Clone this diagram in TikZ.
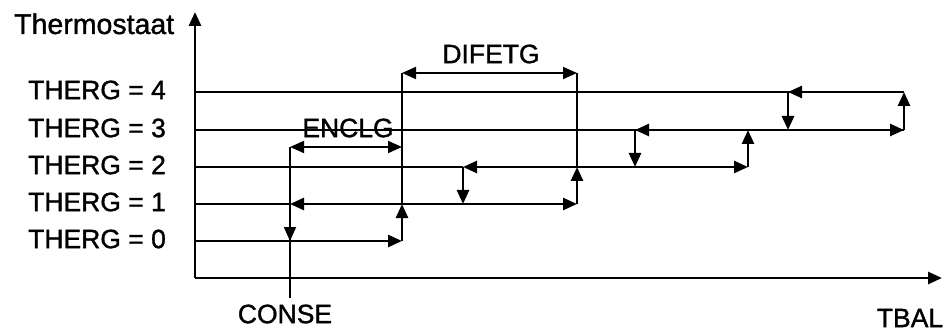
\documentclass[tikz,border=0pt]{standalone}
\usepackage{fontspec}
\setmainfont[FakeBold=1.2]{Liberation Sans}
\usetikzlibrary{arrows.meta,positioning}

\begin{document}
\begin{tikzpicture}[
    x=1pt, y=-1pt,
    lbl/.style={font=\fontsize{26.5}{30}\selectfont, inner sep=0pt},
    axis/.style={line width=2.8pt, -{Triangle[length=14pt, width=12pt]}},
    level/.style={line width=1.1pt},
    guide/.style={line width=1.1pt},
    arrow/.style={line width=2.6pt, -{Triangle[length=14pt, width=12pt]}},
    dimarrow/.style={line width=1.8pt, {Triangle[length=14pt, width=12pt]}-{Triangle[length=14pt, width=12pt]}},
]
    \useasboundingbox (0,0) rectangle (947,331);

    % Axes
    \coordinate (o) at (195,278);
    \coordinate (ytop) at (195,12);
    \coordinate (xend) at (942,278);
    \node[lbl, font=\fontsize{28.5}{32}\selectfont, anchor=base west] (ylab) at (14,34) {Thermostaat};
    \node[lbl] (xlab) at (910,318) {TBAL};

    % Levels
    \foreach \i/\y in {0/241,1/204,2/167,3/130,4/92} {
        \node[lbl, anchor=west] (lab\i) at (28,\y-2) {THERG = \i};
        \coordinate (s\i) at (195,\y);
    }

    % Switching points
    \coordinate (c0) at (290,241);
    \coordinate (c1) at (290,204);
    \coordinate (cE) at (290,147);
    \coordinate (cB) at (290,298);
    \coordinate (a0) at (402,241);
    \coordinate (a1) at (402,204);
    \coordinate (aE) at (402,147);
    \coordinate (aD) at (402,73);
    \coordinate (h1) at (463,204);
    \coordinate (h2) at (463,167);
    \coordinate (b1) at (577,204);
    \coordinate (b2) at (577,167);
    \coordinate (bD) at (577,73);
    \coordinate (d2) at (635,167);
    \coordinate (d3) at (635,130);
    \coordinate (e2) at (748,167);
    \coordinate (e3) at (748,130);
    \coordinate (f3) at (788,130);
    \coordinate (f4) at (788,92);
    \coordinate (g3) at (904,130);
    \coordinate (g4) at (904,92);

    \node[lbl] (conse) at (285,314) {CONSE};
    \node[lbl] (enclg) at (348,128) {ENCLG};
    \node[lbl] (difetg) at (491,54) {DIFETG};

    % Level lines
    \draw[level] (s4) -- (g4);
    \draw[level] (s3) -- (g3);
    \draw[level] (s2) -- (h2);
    \draw[level] (s1) -- (c1);

    % Guide lines
    \draw[guide] (cE) -- (cB);
    \draw[guide] (aD) -- (a1);
    \draw[guide] (bD) -- (b2);

    % Hysteresis widths
    \draw[dimarrow] (cE) -- (aE);
    \draw[dimarrow] (aD) -- (bD);

    % Steps
    \draw[arrow] (s0) -- (a0);
    \draw[arrow] (a0) -- (a1);
    \draw[arrow, line width=1.8pt] (c1) -- (c0);
    \draw[dimarrow, line width=2.6pt] (c1) -- (b1);
    \draw[arrow] (b1) -- (b2);
    \draw[arrow] (b2) -- (h2);
    \draw[arrow] (h2) -- (h1);
    \draw[arrow] (b2) -- (e2);
    \draw[arrow] (e2) -- (e3);
    \draw[arrow] (e3) -- (d3);
    \draw[arrow] (d3) -- (d2);
    \draw[arrow] (e3) -- (g3);
    \draw[arrow] (g3) -- (g4);
    \draw[arrow] (g4) -- (f4);
    \draw[arrow] (f4) -- (f3);

    % Axis arrows
    \draw[axis] (o) -- (ytop);
    \draw[axis] (o) -- (xend);
\end{tikzpicture}
\end{document}
